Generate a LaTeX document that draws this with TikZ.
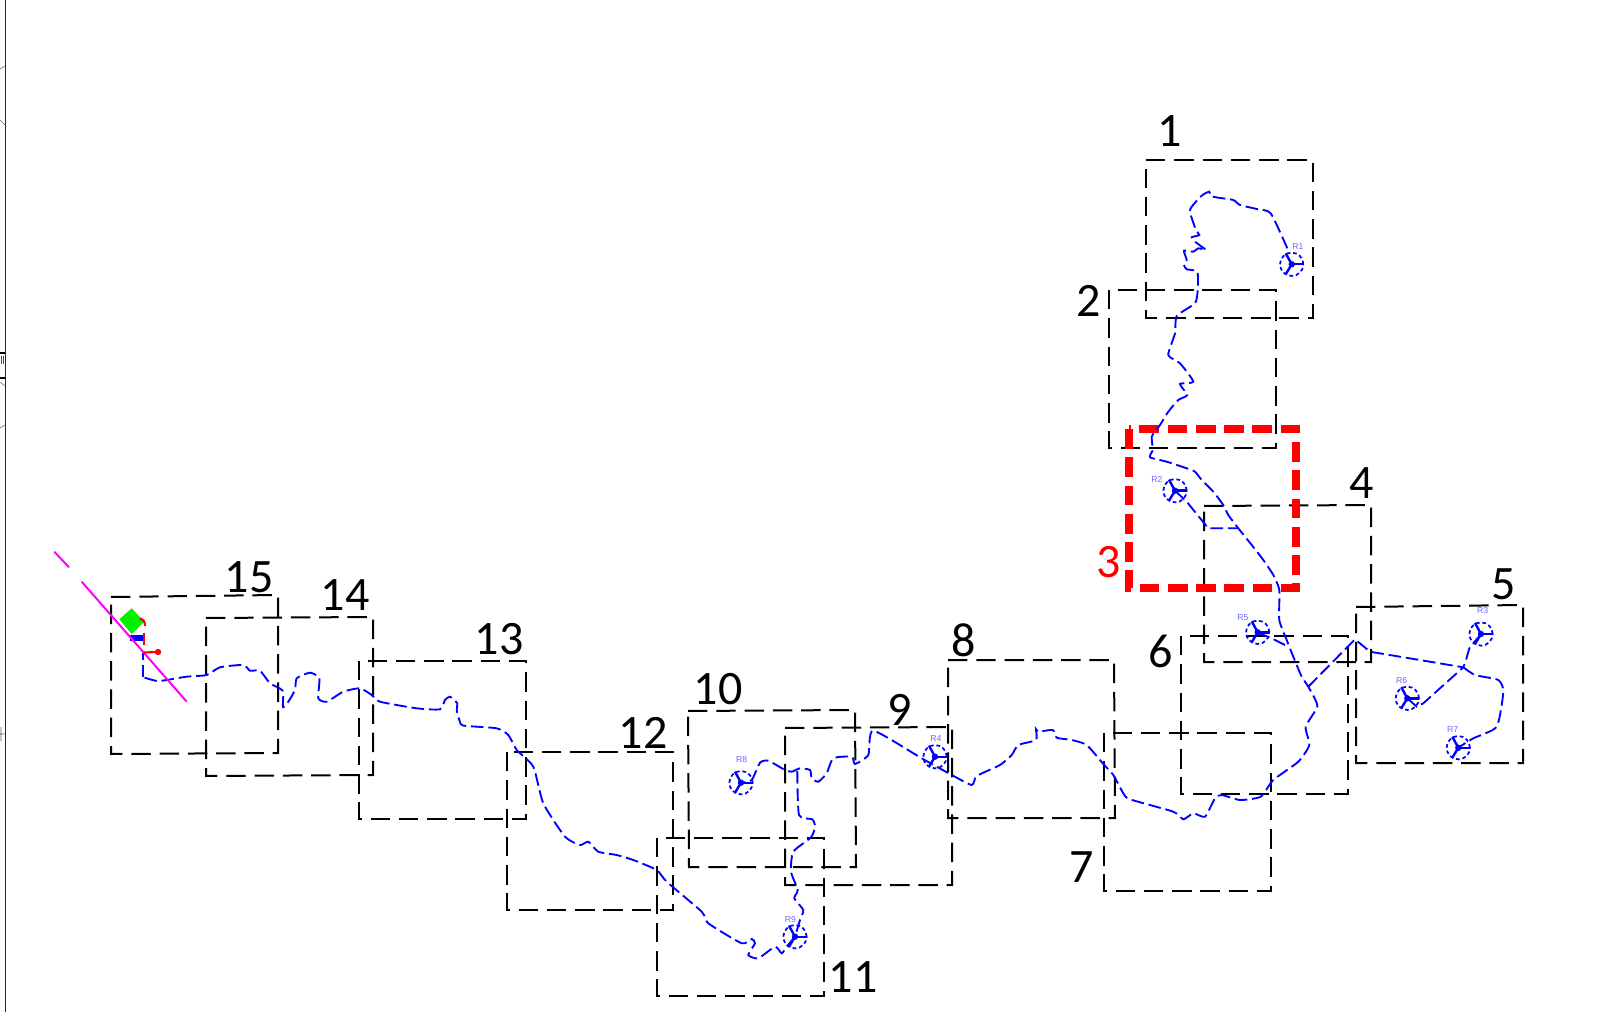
\documentclass[tikz,border=0pt]{standalone}
\usepackage{fontspec}
\setmainfont{Carlito}
\newfontfamily\rlabel{Liberation Sans}
\usetikzlibrary{calc}
\definecolor{routeblue}{RGB}{0,0,255}
\definecolor{lblblue}{RGB}{105,105,255}
\definecolor{magline}{RGB}{255,0,255}
\definecolor{greenpad}{RGB}{0,240,0}
\tikzset{
  gridbox/.style={draw=black,line width=1.5pt,dash pattern=on 14.6pt off 6.6pt,line join=miter},
  hibox/.style={draw=red,line width=6.4pt,dash pattern=on 14.8pt off 6.4pt},
  route/.style={draw=routeblue,line width=1.4pt,dash pattern=on 9.5pt off 3.6pt},
  num/.style={font=\fontsize{36}{36}\selectfont,inner sep=0pt,text=black},
  turbine/.style={circle,draw=routeblue,line width=1.3pt,dash pattern=on 2.8pt off 2.1pt,minimum size=17.5pt,inner sep=0pt},
  rtag/.style={font=\rlabel\fontsize{6.5}{6.5}\selectfont,text=lblblue,inner sep=0pt},
  arm/.style={draw=routeblue,line width=1.8pt},
  sm/.style={smooth,tension=0.35},
}
\newcommand{\turb}[5]{%
  \node[turbine] (#1) at (#2,#3) {};
  \node[rtag] (#1tag) at (#4,#5) {#1};
  \draw[arm] (#1.center) -- ++(12,0);
  \draw[arm] (#1.center) -- ++(-6,-11);
  \draw[arm] (#1.center) -- ++(-6,10);
  \fill[routeblue] (#1.center) circle (2.4pt);
}
\begin{document}
\begin{tikzpicture}[x=0.75pt,y=-0.75pt]
\useasboundingbox (0,0) rectangle (1622,1012);
% left edge of the sheet
\draw[black!85,line width=1.3pt] (5.5,0) -- (5.5,1012);
\draw[black!60,line width=0.4pt] (0,69) -- (5,66) (0,120) -- (5,125) (0,734) -- (5,734) (1,727) -- (1,741) (0,428) -- (5,425) (0,382) -- (5,386);
\draw[black,line width=0.8pt] (0,353) -- (5,353) (0,378) -- (5,378);
\draw[black!70,line width=0.4pt] (1,356) -- (1,364) (3,356) -- (3,364);
% grid boxes
\draw[gridbox] (111,597) -- (278,595) -- (278,753) -- (111,754) -- cycle;
\draw[gridbox] (206,618) -- (373,617) -- (373,775) -- (206,776) -- cycle;
\draw[gridbox] (359,661) rectangle (526,819);
\draw[gridbox] (507,752) rectangle (673,910);
\draw[gridbox] (657,838) rectangle (824,996);
\draw[gridbox] (688,711) -- (855,710) -- (856,867) -- (689,867) -- cycle;
\draw[gridbox] (785,728) -- (952,727) -- (952,885) -- (785,885) -- cycle;
\draw[gridbox] (948,660) -- (1114,660) -- (1115,818) -- (948,818) -- cycle;
\draw[gridbox] (1104,733) rectangle (1271,891);
\draw[gridbox] (1181,636) rectangle (1348,794);
\draw[gridbox] (1204,506) -- (1371,505) -- (1371,662) -- (1204,662) -- cycle;
\draw[gridbox] (1356,607) -- (1523,605) -- (1523,763) -- (1356,763) -- cycle;
\draw[gridbox] (1109,290) rectangle (1276,448);
\draw[gridbox] (1146,160) -- (1313,160) -- (1313,318) -- (1146,318) -- cycle;
\draw[hibox] (1129,429) rectangle (1296,588);
% numbers
\node[num] (n1) at (1169.5,131) {1};
\node[num] (n2) at (1088.5,301) {2};
\node[num,text=red] (n3) at (1109,562) {3};
\node[num] (n4) at (1362,483) {4};
\node[num] (n5) at (1504,584) {5};
\node[num] (n6) at (1161,651) {6};
\node[num] (n7) at (1082,867) {7};
\node[num] (n8) at (964,640) {8};
\node[num] (n9) at (900,710) {9};
\node[num] (n10) at (718,689) {10};
\node[num] (n11) at (853,977) {11};
\node[num] (n12) at (643,733) {12};
\node[num] (n13) at (499,639) {13};
\node[num] (n14) at (345,595) {14};
\node[num] (n15) at (249,577) {15};
% turbines
\turb{R1}{1291.7}{264.3}{1298}{247}
\turb{R2}{1175}{490.7}{1157}{479}
\turb{R3}{1481}{634}{1482.7}{611}
\turb{R4}{935}{756.7}{936}{738.7}
\turb{R5}{1257.7}{632.3}{1243}{618}
\turb{R6}{1407.3}{698.3}{1401.7}{681}
\turb{R7}{1458.3}{747.7}{1452.7}{730}
\turb{R8}{741}{782.7}{741.7}{759.3}
\turb{R9}{795}{936.7}{790.3}{919.3}
\coordinate (jE) at (1308.3,686.7);
\coordinate (jN) at (1463.3,667.3);
\coordinate (jW) at (1238.3,528.3);
\coordinate (jS) at (1288.3,646.7);
\coordinate (jB) at (797.3,771);
% main route from R1 to R8
\draw[route] plot[sm] coordinates {(1287.3,248.3) (1270.7,213.3) (1256.7,209) (1240,205) (1233.3,200) (1218.3,197.7) (1210.7,196) (1209.3,191.7) (1201.7,195.7) (1190,210) (1196,230) (1199.3,235) (1191.7,237.3) (1195,241.7) (1206,250) (1198.3,248.3) (1193.3,251.7) (1184,250.7) (1186.7,260) (1184,265) (1186.7,269.3) (1197.3,271.7) (1197.7,290) (1195,303.3) (1176.7,316) (1175,333.3) (1168.3,355) (1180,363.3) (1193.3,381.7) (1180,384) (1187.3,395) (1178.3,400) (1168.3,411.7) (1160,425) (1155,431.7) (1151.7,436.7) (1152.7,450) (1150,457.3) (1166.7,461.7) (1186.7,468.3) (1195,471.7) (1201.7,480) (1213.3,491.7) (1223.3,505) (1228.3,515) (jW) (1251.7,545) (1263.3,560) (1273.3,575) (1279.3,590) (1279.3,620) (1286.7,640) (1293.3,656.7) (1301.7,676.7) (jE) (1317.3,706) (1305.7,726.7) (1309.3,745) (1298.3,761.7) (1273.3,780) (1260.7,796.7) (1240,800) (1221.7,795) (1215,798.3) (1205,816.7) (1193.3,813.3) (1183.3,819.3) (1173.3,811.7) (1130,799.3) (1123.3,793.3) (1113.3,775) (1103.3,764) (1086.7,745) (1071.7,740) (1056.7,737.7) (1052.7,730) (1038.3,731.7) (1036,729.3) (1036,740) (1018.3,745) (1011.7,755) (1000,765) (976.7,776) (971.7,785) (950,774) (921.7,758.3) (873.3,730.7) (868.3,755) (855,764) (851.7,756.7) (833.3,758.3) (826.7,773.3) (818.3,781.7) (811.7,778.3) (810,770) (800,768.3) (791.7,771.7) (785,770) (768.3,760.7) (760,762.7) (751.7,780) (R8.center)};
% branch down to R9
\draw[route] plot[sm] coordinates {(jB) (799,815) (812.3,819.3) (815,826.7) (811,837.3) (793.3,851.7) (791,871.7) (797.7,890) (794.3,898.3) (803.3,910) (800,920) (R9.center)};
% long route from R9 to the substation
\draw[route] plot[sm] coordinates {(R9.center) (786.7,946.7) (781.7,953.3) (775,946.7) (758.3,958.3) (748.3,955) (755,943.3) (751.7,939) (741.7,943.3) (708.3,923.3) (701.7,911.7) (666.7,881.7) (656.7,870) (633.3,860) (616.7,855) (598.3,851.7) (588.3,841.7) (580,845) (565,836.7) (543.3,803.3) (533.3,766.7) (516.7,750) (508.3,735) (496.7,728.3) (466.7,726) (460.7,724) (456.7,710) (457.3,703.3) (450,696.7) (445,700) (440,709.3) (416.7,708.3) (380,701.7) (371.7,695) (360,688.3) (343.3,691.7) (326.7,701.7) (318.3,698.3) (319.3,678.3) (310,672.7) (296.7,678.3) (295,690) (288.3,701.7) (283,707) (282.7,690.7) (270,683.3) (260,670.7) (250,670.7) (243.3,665) (220,667.3) (206.7,675) (186.7,676.7) (166.7,680) (156.7,681) (143.3,677.3)};
\draw[route] (143.3,677.3) -- (143.3,653.3);
% branches east
\draw[route] (jE) -- (1355,639.3) -- (1370,651.7) -- (jN);
\draw[route] plot[sm] coordinates {(jN) (1475,675) (1498.3,680) (1503.3,691.7) (1496.7,726.7) (1473.3,738.3) (R7.center)};
\draw[route] (R3.center) -- (1469.3,648.3) -- (1466,660) -- (jN);
\draw[route] (R6.center) -- (1416.7,706.7) -- (1423.3,703.3) -- (jN);
\draw[route] (R5.center) -- (1275,640) -- (jS);
\draw[route] (R2.center) -- (1186.7,501.7) -- (1208.3,528.3) -- (jW);
% substation area
\fill[greenpad,line join=round] (131.7,608.3) -- (144.3,621.7) -- (131.7,634) -- (119.3,619.3) -- cycle;
\fill[routeblue] (130,635) rectangle (143.3,640.7);
\draw[magline,line width=1.5pt] (54.3,551.7) -- (69,567.3);
\draw[magline,line width=1.5pt] (81.7,581.7) -- (186.7,701.7);
\draw[red,line width=1.6pt] (140,618.3) .. controls (143,619) and (145,621) .. (145,626);
\draw[red,line width=1.6pt] (144,633.3) -- (144,645);
\draw[red,line width=1.6pt] (143.5,652.5) -- (158,652);
\fill[red] (158,652) circle (2.4pt);
\end{tikzpicture}
\end{document}
